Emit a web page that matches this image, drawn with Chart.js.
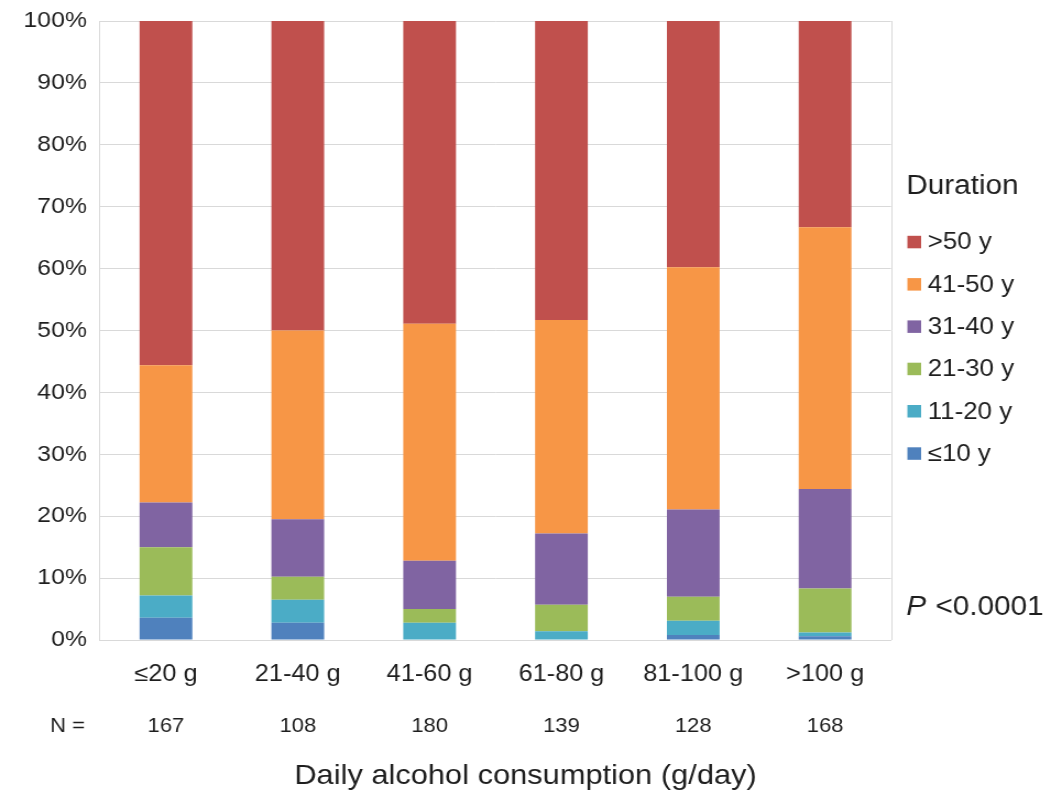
<!DOCTYPE html>
<html>
<head>
<meta charset="utf-8">
<script src="https://cdn.jsdelivr.net/npm/chart.js@4/dist/chart.umd.min.js"></script>
<style>
  html, body { margin: 0; padding: 0; background: #fff; overflow: hidden; }
  #wrap { width: 955px; height: 791px; transform: scaleX(1.10052); transform-origin: 0 0; }
</style>
</head>
<body>
<div id="wrap"><canvas id="c" width="955" height="791"></canvas></div>
<script>
// Daily alcohol consumption groups and group sizes
const categories = ['≤20 g', '21-40 g', '41-60 g', '61-80 g', '81-100 g', '>100 g'];
const groupN = [167, 108, 180, 139, 128, 168];

// Share of drinking duration within each group (%), bottom to top
const dur10 = [3.6, 2.8, 0.0, 0.0, 0.8, 0.6];
const dur11to20 = [3.6, 3.7, 2.8, 1.4, 2.3, 0.6];
const dur21to30 = [7.8, 3.7, 2.2, 4.3, 3.9, 7.1];
const dur31to40 = [7.2, 9.3, 7.8, 11.5, 14.1, 16.1];
const dur41to50 = [22.2, 30.5, 38.3, 34.5, 39.1, 42.3];
const dur50plus = [55.6, 50.0, 48.9, 48.3, 39.8, 33.3];

const seriesNames = ['≤10 y', '11-20 y', '21-30 y', '31-40 y', '41-50 y', '>50 y'];
const seriesColors = ['#4F81BD', '#4BACC6', '#9BBB59', '#8064A2', '#F79646', '#C0504D'];
const seriesValues = [dur10, dur11to20, dur21to30, dur31to40, dur41to50, dur50plus];

const yTicks = [0, 10, 20, 30, 40, 50, 60, 70, 80, 90, 100];

const FONT = '"Liberation Sans", Arial, Helvetica, sans-serif';
const TEXT = '#1e1e1e';
const GRID = '#d9d9d9';

// Extra text: group sizes, axis title, legend and P value
const annotations = {
  id: 'annotations',
  afterDraw(chart) {
    const ctx = chart.ctx;
    const area = chart.chartArea;
    const xs = chart.scales.x;
    ctx.save();

    // right edge of the plot frame
    ctx.strokeStyle = GRID;
    ctx.lineWidth = 1;
    ctx.beginPath();
    ctx.moveTo(Math.round(area.right) + 0.5, area.top);
    ctx.lineTo(Math.round(area.right) + 0.5, area.bottom);
    ctx.stroke();

    ctx.fillStyle = TEXT;
    ctx.textBaseline = 'alphabetic';

    // N row
    ctx.font = '20px ' + FONT;
    ctx.textAlign = 'left';
    ctx.fillText('N =', 45.5, 731.5);
    ctx.textAlign = 'center';
    groupN.forEach((n, i) => {
      ctx.fillText(String(n), xs.getPixelForValue(i), 731.5);
    });

    // axis title
    ctx.font = '28px ' + FONT;
    ctx.fillText('Daily alcohol consumption (g/day)', chart.width / 2, 783.5);

    // legend
    ctx.textAlign = 'left';
    ctx.font = '27px ' + FONT;
    ctx.fillText('Duration', 823.5, 193.5);
    ctx.font = '23.5px ' + FONT;
    ctx.textBaseline = 'middle';
    const items = chart.data.datasets.slice().reverse();
    items.forEach((ds, k) => {
      const cy = 242 + k * 42.3;
      ctx.fillStyle = ds.backgroundColor;
      ctx.fillRect(824.5, cy - 6.2, 12.5, 12.5);
      ctx.fillStyle = TEXT;
      ctx.fillText(ds.label, 843, cy + 1);
    });

    // P value
    ctx.textBaseline = 'alphabetic';
    ctx.font = 'italic 27px ' + FONT;
    ctx.fillText('P', 823.5, 615);
    const pw = ctx.measureText('P ').width;
    ctx.font = '27px ' + FONT;
    ctx.fillText('<0.0001', 823.5 + pw + 1, 615);

    ctx.restore();
  }
};

new Chart(document.getElementById('c'), {
  type: 'bar',
  data: {
    labels: categories,
    datasets: seriesValues.map((vals, i) => ({
      label: seriesNames[i],
      data: vals,
      backgroundColor: seriesColors[i],
      borderWidth: 0,
      barPercentage: 0.4,
      categoryPercentage: 1.0
    }))
  },
  options: {
    responsive: false,
    animation: false,
    devicePixelRatio: 1,
    layout: { padding: { left: 0, right: 145.4, top: 21, bottom: 0 } },
    plugins: {
      legend: { display: false },
      tooltip: { enabled: false },
      title: { display: false }
    },
    scales: {
      x: {
        stacked: true,
        grid: { display: false, drawTicks: false },
        border: { display: true, color: GRID, width: 1 },
        ticks: {
          color: TEXT,
          font: { family: FONT, size: 23 },
          padding: 21,
          maxRotation: 0,
          autoSkip: false
        },
        afterFit(scale) {
          scale.height = 151;
          scale.paddingLeft = 0;
          scale.paddingRight = 0;
        }
      },
      y: {
        stacked: true,
        min: 0,
        max: 100,
        afterBuildTicks(scale) { scale.ticks = yTicks.map(v => ({ value: v })); },
        grid: { color: GRID, lineWidth: 1, drawTicks: false },
        border: { display: true, color: GRID, width: 1 },
        ticks: {
          color: TEXT,
          font: { family: FONT, size: 22.5 },
          padding: 12,
          callback: v => v + '%'
        },
        afterFit(scale) {
          scale.width = 90.9;
          scale.paddingTop = 0;
          scale.paddingBottom = 0;
        }
      }
    }
  },
  plugins: [annotations]
});
</script>
</body>
</html>
